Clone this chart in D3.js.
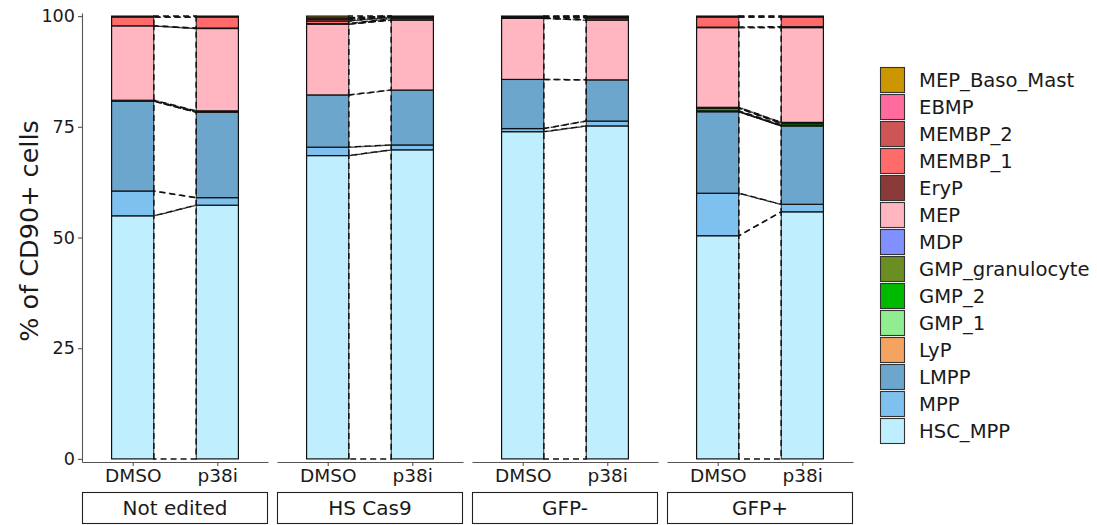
<!DOCTYPE html>
<html>
<head>
<meta charset="utf-8">
<script src="https://cdn.jsdelivr.net/npm/d3@7"></script>
<style>
  body { margin: 0; background: #fff; }
  svg { font-family: "DejaVu Sans", sans-serif; }
</style>
</head>
<body>
<div id="chart"></div>
<script>
const w = 1097;
const h = 525;

// stacking order, bottom to top
const cellTypes = ["HSC_MPP", "MPP", "LMPP", "LyP", "GMP_1", "GMP_2", "GMP_granulocyte",
  "MDP", "MEP", "EryP", "MEMBP_1", "MEMBP_2", "EBMP", "MEP_Baso_Mast"];
const cellColors = ["#BFEFFF", "#7EC0EE", "#6CA6CD", "#F4A460", "#90EE90", "#00BA00", "#6B8E23",
  "#8090FF", "#FFB6C1", "#8B3A3A", "#FF6A6A", "#CD5555", "#FF6B9E", "#CC9600"];

const conditions = ["Not edited", "HS Cas9", "GFP-", "GFP+"];
const treatments = ["DMSO", "p38i"];

// % of CD90+ cells, one array per condition x treatment, in cellTypes order
const notEditedDMSO = [54.9, 5.6, 20.3, 0.1, 0.0, 0.1, 0.0, 0.0, 16.8, 0.0, 2.0, 0.2, 0.0, 0.0];
const notEditedP38i = [57.3, 1.7, 19.3, 0.1, 0.0, 0.2, 0.0, 0.0, 18.6, 0.1, 2.5, 0.2, 0.0, 0.0];
const hsCas9DMSO    = [68.5, 1.9, 11.8, 0.0, 0.0, 0.0, 0.0, 0.0, 16.0, 0.1, 0.6, 0.4, 0.3, 0.4];
const hsCas9P38i    = [69.8, 1.1, 12.4, 0.0, 0.0, 0.0, 0.0, 0.0, 15.8, 0.4, 0.3, 0.1, 0.1, 0.0];
const gfpNegDMSO    = [73.9, 0.7, 11.1, 0.0, 0.0, 0.0, 0.0, 0.0, 13.8, 0.1, 0.1, 0.1, 0.1, 0.1];
const gfpNegP38i    = [75.2, 1.1, 9.3, 0.0, 0.0, 0.0, 0.0, 0.0, 13.5, 0.5, 0.2, 0.1, 0.1, 0.0];
const gfpPosDMSO    = [50.4, 9.6, 18.4, 0.1, 0.1, 0.6, 0.2, 0.0, 18.0, 0.1, 2.3, 0.1, 0.0, 0.1];
const gfpPosP38i    = [55.8, 1.7, 17.7, 0.1, 0.1, 0.4, 0.2, 0.0, 21.4, 0.2, 2.2, 0.1, 0.0, 0.1];

const values = {
  "Not edited": { DMSO: notEditedDMSO, p38i: notEditedP38i },
  "HS Cas9": { DMSO: hsCas9DMSO, p38i: hsCas9P38i },
  "GFP-": { DMSO: gfpNegDMSO, p38i: gfpNegP38i },
  "GFP+": { DMSO: gfpPosDMSO, p38i: gfpPosP38i }
};

const yTicks = [0, 25, 50, 75, 100];

const panelTop = 13, panelBottom = 462;
const panelW = 186, panelGap = 9, panelLeft = 82;

const svg = d3.select("#chart").append("svg")
  .attr("width", w).attr("height", h);

const y = d3.scaleLinear().domain([-0.7, 100.7]).range([panelBottom, panelTop]);

// stacked segments for one sample
function stackOf(arr) {
  let acc = 0;
  return arr.map((v, i) => {
    const s = { type: cellTypes[i], i: i, y0: acc, y1: acc + v };
    acc += v;
    return s;
  });
}

conditions.forEach((cond, ci) => {
  const px = panelLeft + ci * (panelW + panelGap);
  const x = d3.scalePoint().domain(treatments).range([px, px + panelW]).padding(0.6);
  const bw = x.step() * 0.5;
  const g = svg.append("g");

  const stacks = treatments.map((t) => stackOf(values[cond][t]));

  // bars
  treatments.forEach((t, ti) => {
    g.append("g").selectAll("rect")
      .data(stacks[ti].filter((d) => d.y1 > d.y0))
      .enter().append("rect")
      .attr("x", x(t) - bw / 2)
      .attr("width", bw)
      .attr("y", (d) => y(d.y1))
      .attr("height", (d) => y(d.y0) - y(d.y1))
      .attr("fill", (d) => cellColors[d.i])
      .attr("stroke", "#111")
      .attr("stroke-width", 1.2);
  });

  // flows between DMSO and p38i
  const xa = x("DMSO") + bw / 2;
  const xb = x("p38i") - bw / 2;
  const flows = cellTypes.map((c, i) => ({ a: stacks[0][i], b: stacks[1][i] }))
    .filter((d) => (d.a.y1 > d.a.y0) || (d.b.y1 > d.b.y0));
  g.append("g").selectAll("path")
    .data(flows)
    .enter().append("path")
    .attr("d", (d) => "M" + xa + "," + y(d.a.y0) + "L" + xa + "," + y(d.a.y1) +
      "L" + xb + "," + y(d.b.y1) + "L" + xb + "," + y(d.b.y0) + "Z")
    .attr("fill", "#fff")
    .attr("fill-opacity", 0.5)
    .attr("stroke", "#111")
    .attr("stroke-width", 1.5)
    .attr("stroke-dasharray", "6,4");

  // x axis
  const xAxis = g.append("g")
    .attr("transform", "translate(0," + panelBottom + ")")
    .call(d3.axisBottom(x).tickSizeInner(4).tickSizeOuter(0).tickPadding(3));
  xAxis.select(".domain").attr("stroke", "#555").attr("stroke-width", 1.1);
  xAxis.selectAll(".tick line").attr("stroke", "#555").attr("stroke-width", 1.1);
  xAxis.selectAll(".tick text")
    .attr("fill", "#1a1a1a")
    .style("font-size", "18.5px")
    .style("font-family", "DejaVu Sans");

  // strip
  g.append("rect")
    .attr("x", px + 0.5).attr("y", 492.5)
    .attr("width", panelW - 1).attr("height", 31)
    .attr("fill", "#fff").attr("stroke", "#222").attr("stroke-width", 1.1);
  g.append("text")
    .attr("x", px + panelW / 2).attr("y", 508)
    .attr("text-anchor", "middle").attr("dominant-baseline", "central")
    .attr("fill", "#1a1a1a")
    .style("font-size", "20px")
    .text(cond);
});

// y axis
const yAxis = svg.append("g")
  .attr("transform", "translate(" + panelLeft + ",0)")
  .call(d3.axisLeft(y).tickValues(yTicks).tickSizeInner(4).tickSizeOuter(0).tickPadding(3));
yAxis.select(".domain").attr("stroke", "#555").attr("stroke-width", 1.1);
yAxis.selectAll(".tick line").attr("stroke", "#555").attr("stroke-width", 1.1);
yAxis.selectAll(".tick text")
  .attr("fill", "#1a1a1a")
  .style("font-size", "17.6px")
  .style("font-family", "DejaVu Sans");

svg.append("text")
  .attr("transform", "translate(29," + 231 + ") rotate(-90)")
  .attr("text-anchor", "middle").attr("dominant-baseline", "central")
  .attr("fill", "#1a1a1a")
  .style("font-size", "25.5px")
  .text("% of CD90+ cells");

// legend, top entry is the last stacked type
const legendTypes = cellTypes.slice().reverse();
const legend = svg.append("g").attr("transform", "translate(880,67)");
const item = legend.selectAll("g")
  .data(legendTypes)
  .enter().append("g")
  .attr("transform", (d, i) => "translate(0," + (i * 27) + ")");
item.append("rect")
  .attr("x", 0.5).attr("y", 0.5)
  .attr("width", 24).attr("height", 25)
  .attr("fill", (d) => cellColors[cellTypes.indexOf(d)])
  .attr("stroke", "#333").attr("stroke-width", 1.1);
item.append("text")
  .attr("x", 39).attr("y", 13.5)
  .attr("dominant-baseline", "central")
  .attr("fill", "#1a1a1a")
  .style("font-size", "19.6px")
  .text((d) => d);
</script>
</body>
</html>
